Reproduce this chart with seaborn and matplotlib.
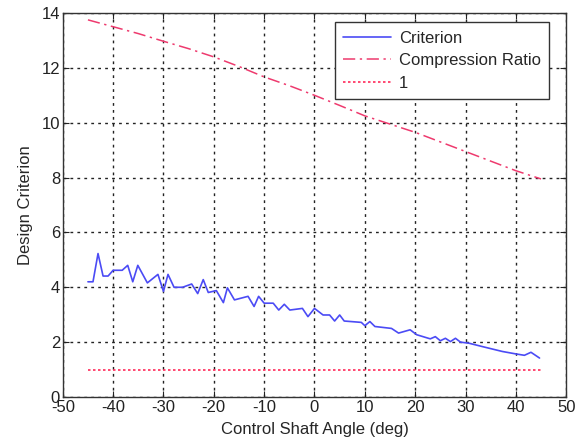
import numpy as np
import pandas as pd
import matplotlib
matplotlib.use("Agg")
import matplotlib.pyplot as plt
import seaborn as sns

# Data
crit_x = [-45, -44, -43, -42, -41, -40, -38.2, -37.1, -36.1, -35.1, -33.2, -31.1, -30, -29.1,
          -27.9, -26.2, -24.4, -23.2, -22.1, -21.1, -19.5, -18.1, -17.3, -15.9, -13.2, -12,
          -11.1, -10, -8.2, -7.1, -6, -4.9, -2.4, -1.3, 0, 1.7, 3, 4, 5, 5.9, 9.3, 10, 11, 12,
          15.3, 16.7, 19, 20.3, 23, 24, 25, 26, 27, 28, 29, 30.7, 33.3, 37.3, 40, 41.7, 43, 44.7]
crit_y = [4.2, 4.2, 5.23, 4.41, 4.41, 4.62, 4.62, 4.8, 4.2, 4.8, 4.16, 4.47, 3.85, 4.47,
          4.0, 4.0, 4.12, 3.77, 4.28, 3.81, 3.88, 3.44, 3.98, 3.54, 3.67, 3.3,
          3.67, 3.42, 3.42, 3.17, 3.38, 3.17, 3.23, 2.93, 3.23, 2.99, 2.99, 2.77, 2.99, 2.77, 2.72, 2.6, 2.75, 2.57,
          2.5, 2.33, 2.45, 2.27, 2.12, 2.2, 2.05, 2.14, 2.02, 2.14, 2.0, 1.96, 1.84, 1.66, 1.57, 1.52, 1.63, 1.42]

cr_x = [-45, -40, -35, -30, -25, -20, -15, -10, -5, 0, 5, 10, 15, 20, 25, 30, 35, 40, 45]
cr_y = [13.75, 13.5, 13.25, 12.97, 12.7, 12.4, 12.05, 11.67, 11.35, 11.0, 10.63, 10.25,
        9.95, 9.65, 9.3, 8.95, 8.6, 8.25, 7.95]

one_x = [-45, 45]
one_y = [1, 1]

x_ticks = [-50, -40, -30, -20, -10, 0, 10, 20, 30, 40, 50]
y_ticks = [0, 2, 4, 6, 8, 10, 12, 14]

sns.set_style("white")
plt.rcParams['font.family'] = ['Liberation Sans', 'DejaVu Sans']

fig = plt.figure(figsize=(5.76, 4.41), dpi=100)
ax = fig.add_axes([0.109, 0.0998, 0.874, 0.8707])

df_c = pd.DataFrame({"x": crit_x, "y": crit_y})
df_r = pd.DataFrame({"x": cr_x, "y": cr_y})
df_1 = pd.DataFrame({"x": one_x, "y": one_y})

sns.lineplot(data=df_c, x="x", y="y", ax=ax, color="#4b4bf5", lw=1.2, label="Criterion")
sns.lineplot(data=df_r, x="x", y="y", ax=ax, color="#ee3a6e", lw=1.1, label="Compression Ratio",
             linestyle=(0, (8, 3, 1.5, 3)))
sns.lineplot(data=df_1, x="x", y="y", ax=ax, color="#ff2a5a", lw=1.2, label="1",
             linestyle=(0, (1.5, 1.5)))

ax.set_xlim(-50, 50)
ax.set_ylim(0, 14)
ax.set_xticks(x_ticks)
ax.set_yticks(y_ticks)
ax.set_xticklabels([str(v) for v in x_ticks])
ax.set_yticklabels([str(v) for v in y_ticks])
ax.set_xlabel("Control Shaft Angle (deg)", fontsize=12, labelpad=5)
ax.set_ylabel("Design Criterion", fontsize=12, labelpad=6)
ax.tick_params(direction="in", length=4, width=0.8, labelsize=12, top=True, right=True,
               bottom=True, left=True, colors="#222222", pad=2)
ax.grid(True, linestyle=(0, (2, 3)), color="#222222", lw=1.0)
for s in ax.spines.values():
    s.set_visible(True)
    s.set_color("#333333")
    s.set_linewidth(1.0)

leg = ax.legend(loc="upper right", bbox_to_anchor=(0.966, 0.976), fontsize=12, frameon=True,
                fancybox=False, edgecolor="#333333", framealpha=1, handlelength=2.9,
                borderpad=0.5, labelspacing=0.45, handletextpad=0.45, borderaxespad=0.0)
leg.get_frame().set_linewidth(1.0)

fig.savefig("out.png", dpi=100)
